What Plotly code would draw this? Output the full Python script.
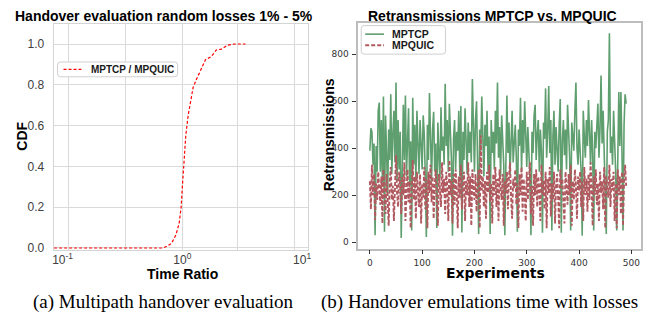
import plotly.graph_objects as go

W, H = 652, 319

# ---------------- Left chart: CDF of time ratio ----------------
cdf_ratio = [0.085, 0.69, 0.74, 0.813, 0.867, 0.883, 0.94, 0.977, 1.003, 1.035,
             1.069, 1.118, 1.177, 1.23, 1.312, 1.444, 1.56, 1.75, 1.92, 2.12,
             2.40, 2.73, 3.37]
cdf_value = [0.0, 0.0, 0.008, 0.023, 0.055, 0.064, 0.12, 0.2, 0.312, 0.441,
             0.553, 0.65, 0.73, 0.787, 0.827, 0.883, 0.923, 0.939, 0.971, 0.975,
             0.995, 1.0, 1.0]
cdf_label = "MPTCP / MPQUIC"

# ---------------- Right chart: retransmissions ----------------
experiments = list(range(0, 491, 2))
mptcp = [
    390, 485, 470, 330, 420, 30, 410, 300, 560, 595,
    300, 520, 250, 620, 45, 540, 380, 200, 480, 350,
    630, 290, 460, 560, 340, 680, 260, 520, 310, 470,
    18, 400, 585, 350, 625, 280, 480, 570, 240, 430,
    50, 615, 330, 500, 260, 560, 420, 290, 520, 370,
    310, 540, 460, 280, 22, 500, 350, 635, 430, 260,
    480, 555, 300, 420, 60, 510, 380, 270, 575, 390,
    450, 330, 675, 410, 520, 300, 590, 460, 350, 28,
    440, 520, 310, 470, 390, 560, 280, 580, 41, 470,
    350, 570, 430, 290, 510, 380, 470, 340, 695, 420,
    300, 520, 600, 330, 35, 480, 390, 620, 450, 280,
    500, 410, 560, 300, 450, 35, 520, 380, 470, 310,
    560, 420, 680, 360, 490, 280, 540, 400, 330, 30,
    450, 625, 380, 510, 290, 470, 560, 340, 430, 500,
    360, 45, 480, 410, 615, 300, 520, 380, 600, 440,
    320, 490, 410, 280, 30, 470, 380, 540, 585, 350,
    460, 520, 300, 480, 390, 40, 510, 440, 655, 360,
    470, 665, 380, 520, 50, 450, 560, 330, 490, 410,
    300, 500, 610, 40, 430, 520, 370, 480, 310, 585,
    420, 360, 50, 510, 450, 390, 560, 680, 400, 330,
    480, 390, 300, 28, 560, 450, 360, 520, 410, 605,
    440, 330, 520, 380, 50, 470, 400, 540, 590, 360,
    480, 710, 420, 560, 380, 300, 35, 470, 520, 890,
    380, 450, 330, 560, 420, 300, 50, 480, 640, 410,
    640, 390, 50, 500, 630, 590,
]
mpquic = [
    260, 140, 330, 200, 290, 95, 250, 180, 300, 220,
    160, 280, 80, 310, 230, 120, 290, 200, 70, 260,
    320, 180, 240, 90, 290, 370, 210, 150, 300, 240,
    120, 280, 200, 340, 90, 250, 310, 170, 260, 60,
    230, 350, 180, 280, 100, 300, 220, 150, 290, 80,
    250, 190, 320, 140, 270, 60, 300, 210, 330, 170,
    280, 100, 240, 310, 180, 70, 290, 230, 150, 340,
    210, 270, 120, 300, 240, 90, 350, 200, 260, 80,
    290, 160, 310, 230, 60, 280, 190, 330, 140, 250,
    300, 90, 260, 200, 340, 150, 280, 70, 310, 230,
    180, 290, 130, 240, 310, 60, 455, 220, 280, 150,
    260, 100, 300, 210, 330, 170, 250, 80, 290, 200,
    320, 150, 270, 90, 310, 230, 180, 290, 70, 260,
    210, 300, 140, 280, 340, 190, 100, 270, 230, 310,
    160, 250, 60, 290, 200, 320, 130, 270, 210, 90,
    300, 180, 260, 340, 120, 240, 70, 290, 200, 310,
    150, 280, 230, 90, 330, 200, 260, 140, 300, 60,
    270, 210, 320, 110, 250, 180, 300, 80, 240, 290,
    190, 60, 310, 230, 270, 140, 80, 300, 220, 160,
    290, 200, 330, 70, 260, 180, 310, 240, 100, 280,
    220, 300, 150, 260, 90, 320, 200, 270, 130, 290,
    180, 340, 230, 70, 280, 200, 310, 160, 250, 90,
    300, 210, 260, 140, 320, 60, 280, 230, 190, 330,
    150, 270, 220, 300, 90, 250, 60, 310, 200, 280,
    120, 300, 70, 260, 330, 240,
]

left_title = "Handover evaluation random losses 1% - 5%"
right_title = "Retransmissions MPTCP vs. MPQUIC"
caption_a = "(a) Multipath handover evaluation"
caption_b = "(b) Handover emulations time with losses"
left_xlabel, left_ylabel = "Time Ratio", "CDF"
right_xlabel, right_ylabel = "Experiments", "Retransmissions"
right_names = ["MPTCP", "MPQUIC"]

x_ticks = [0.1, 1, 10]
x_ticktext = ["10<sup>-1</sup>", "10<sup>0</sup>", "10<sup>1</sup>"]
x_grid = [0.111, 0.333, 1, 2.9, 8.6]
y_ticks = [0, 0.2, 0.4, 0.6, 0.8, 1.0]
y_ticktext = ["0.0", "0.2", "0.4", "0.6", "0.8", "1.0"]
r_xticks = [0, 100, 200, 300, 400, 500]
r_yticks = [0, 200, 400, 600, 800]

SANS = "Liberation Sans, Arial, sans-serif"
DEJAVU = "DejaVu Sans, sans-serif"
SERIF = "Liberation Serif, Times New Roman, serif"

RED = "#ff0000"
GREEN = "#5f9e6e"
ROSE = "#b05a60"


def px(x):
    return x / W


def py(y):
    return 1 - y / H


fig = go.Figure()

fig.add_trace(go.Scatter(
    x=cdf_ratio, y=cdf_value, mode="lines", name=cdf_label,
    line=dict(color=RED, width=1.2, dash="3px,2px"),
    xaxis="x", yaxis="y", hoverinfo="skip",
))
# same data on the labelled overlay axis (transparent) so that axis is drawn
fig.add_trace(go.Scatter(
    x=cdf_ratio, y=cdf_value, mode="lines", showlegend=False,
    line=dict(color="rgba(0,0,0,0)", width=0),
    xaxis="x3", yaxis="y", hoverinfo="skip",
))
fig.add_trace(go.Scatter(
    x=experiments, y=mptcp, mode="lines", name=right_names[0],
    line=dict(color=GREEN, width=1.6),
    xaxis="x2", yaxis="y2", hoverinfo="skip",
))
fig.add_trace(go.Scatter(
    x=experiments, y=mpquic, mode="lines", name=right_names[1],
    line=dict(color=ROSE, width=1.9, dash="4px,2px"),
    xaxis="x2", yaxis="y2", hoverinfo="skip",
))

grid_col = "#dadada"
fig.update_layout(
    width=W, height=H,
    margin=dict(l=0, r=0, t=0, b=0),
    paper_bgcolor="white", plot_bgcolor="white",
    showlegend=False,
    xaxis=dict(
        domain=[px(53), px(309)], anchor="y", type="log",
        range=[-1.075, 1.046],
        tickmode="array", tickvals=x_grid, showticklabels=False,
        showgrid=True, gridcolor=grid_col, gridwidth=1, ticks="",
        showline=True, mirror=True, linecolor="#d4d4d4", linewidth=1,
        zeroline=False,
    ),
    xaxis3=dict(
        overlaying="x", anchor="y", side="bottom", type="log",
        range=[-1.075, 1.046],
        tickmode="array", tickvals=x_ticks, ticktext=x_ticktext,
        showgrid=False, ticks="", ticklabelstandoff=1,
        tickfont=dict(family=SANS, size=12, color="#404040"),
        showline=False, zeroline=False,
    ),
    yaxis=dict(
        domain=[py(254), py(24)], anchor="x",
        range=[-0.01, 1.1],
        tickmode="array", tickvals=y_ticks, ticktext=y_ticktext,
        showgrid=True, gridcolor=grid_col, gridwidth=1,
        ticks="", ticklabelstandoff=6,
        tickfont=dict(family=SANS, size=12, color="#404040"),
        showline=True, mirror=True, linecolor="#d4d4d4", linewidth=1,
        zeroline=False,
    ),
    xaxis2=dict(
        domain=[px(360), px(645)], anchor="y2",
        range=[-22.2, 518.5],
        tickmode="array", tickvals=r_xticks,
        showgrid=False, ticks="outside", ticklen=4, tickwidth=1,
        tickcolor="#333", ticklabelstandoff=1,
        tickfont=dict(family=DEJAVU, size=9, color="#333"),
        showline=True, mirror=True, linecolor="#bdbdbd", linewidth=1.5,
        zeroline=False,
    ),
    yaxis2=dict(
        domain=[py(252.5), py(23)], anchor="x2",
        range=[-27, 935],
        tickmode="array", tickvals=r_yticks,
        showgrid=False, ticks="outside", ticklen=4, tickwidth=1,
        tickcolor="#333", ticklabelstandoff=2,
        tickfont=dict(family=DEJAVU, size=9, color="#333"),
        showline=True, mirror=True, linecolor="#bdbdbd", linewidth=1.5,
        zeroline=False,
    ),
)


def label(text, x, y, size, family=SANS, angle=0, xanchor="center", color="#000"):
    fig.add_annotation(text=text, xref="paper", yref="paper", x=px(x), y=py(y),
                       xanchor=xanchor, yanchor="middle", showarrow=False,
                       textangle=angle, font=dict(family=family, size=size, color=color))


# titles, axis titles, captions
label("<b>" + left_title + "</b>", 164, 16, 14)
label("<b>" + right_title + "</b>", 495, 16, 14)
label("<b>" + left_xlabel + "</b>", 183, 278, 14)
label("<b>" + left_ylabel + "</b>", 21, 138, 14, angle=-90)
label("<b>" + right_xlabel + "</b>", 498, 277.5, 14, family=DEJAVU)
label("<b>" + right_ylabel + "</b>", 330, 137, 14, angle=-90)
label(caption_a, 164, 306.5, 19, family=SERIF)
label(caption_b, 482.5, 306.5, 19, family=SERIF)


# legends (drawn as boxes, sample lines and text)
def legend_box(x0, y0, x1, y1, r=3):
    X0, X1, Y0, Y1 = px(x0), px(x1), py(y0), py(y1)
    rx, ry = r / W, r / H
    path = (f"M {X0+rx},{Y0} L {X1-rx},{Y0} Q {X1},{Y0} {X1},{Y0-ry} "
            f"L {X1},{Y1+ry} Q {X1},{Y1} {X1-rx},{Y1} L {X0+rx},{Y1} "
            f"Q {X0},{Y1} {X0},{Y1+ry} L {X0},{Y0-ry} Q {X0},{Y0} {X0+rx},{Y0} Z")
    fig.add_shape(type="path", path=path, xref="paper", yref="paper",
                  fillcolor="white", line=dict(color="#cfcfcf", width=1), layer="above")


def legend_item(x0, x1, y, color, dash, width, text, tx, size):
    fig.add_shape(type="line", xref="paper", yref="paper",
                  x0=px(x0), x1=px(x1), y0=py(y), y1=py(y), layer="above",
                  line=dict(color=color, width=width, dash=dash))
    label("<b>" + text + "</b>", tx, y, size, xanchor="left", color="#1a1a1a")


legend_box(57, 63, 178, 78)
legend_item(63, 81, 70.5, RED, "3px,2px", 1.3, cdf_label, 89, 10)

legend_box(363, 26, 448, 55)
legend_item(367, 386, 34.7, GREEN, "solid", 1.6, right_names[0], 392, 10.5)
legend_item(367, 386, 46, ROSE, "4px,2px", 1.9, right_names[1], 392, 10.5)

# remove the browser's default 8px page margin so the figure fills the window exactly
fig.write_html(
    "out.html",
    config={"displayModeBar": False},
    post_script="document.body.style.margin='0';document.body.style.overflow='hidden';",
)
